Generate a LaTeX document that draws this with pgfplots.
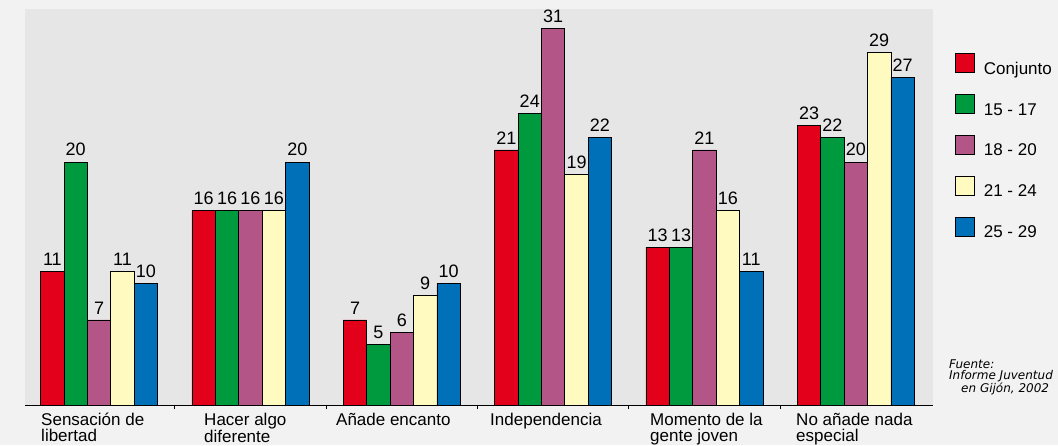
\documentclass[border=0pt]{standalone}
\usepackage{pgfplots}
\pgfplotsset{compat=1.18}
\usepackage{fontspec}
\setmainfont{Liberation Sans}
\newfontfamily\srcfont{DejaVu Sans}
\definecolor{cRed}{HTML}{E2001A}
\definecolor{cGreen}{HTML}{009A3E}
\definecolor{cPurple}{HTML}{B35587}
\definecolor{cYellow}{HTML}{FFFAC0}
\definecolor{cBlue}{HTML}{0070B8}
\definecolor{bgOuter}{HTML}{F2F2F2}
\definecolor{bgPlot}{HTML}{E6E6E6}
\pgfplotsset{
  sqlegend/.style={legend image code/.code={\draw[##1,draw=black,line width=0.8pt] (0pt,-3.5pt) rectangle (19pt,15.5pt);\path (28pt,0pt);}},
}
\begin{document}
\begin{tikzpicture}[x=1pt,y=1pt]
\fill[bgOuter] (0,0) rectangle (1058,445);
\path[use as bounding box] (0,0) rectangle (1058,445);
\begin{axis}[
  at={(25pt,40pt)}, anchor=south west,
  scale only axis, width=908pt, height=396pt,
  ybar=0pt, bar width=23.4pt,
  xmin=-0.49, xmax=5.51, ymin=0, ymax=32.6,
  axis background/.style={fill=bgPlot},
  axis x line=bottom, axis y line=none,
  x axis line style={-, black, line width=0.8pt},
  xtick={0.5,1.5,2.5,3.5,4.5}, xticklabels={},
  tick align=outside, major tick length=4pt,
  tick style={black, line width=0.8pt},
  extra x ticks={-0.384,0.693,1.565,2.583,3.640,4.605},
  extra x tick labels={
    {\rule{0pt}{16pt}Sensación de\\libertad},
    {\rule{0pt}{16pt}Hacer algo\\diferente},
    {\rule{0pt}{16pt}Añade encanto},
    {\rule{0pt}{16pt}Independencia},
    {\rule{0pt}{16pt}Momento de la\\gente joven},
    {\rule{0pt}{16pt}No añade nada\\especial}},
  extra x tick style={major tick length=0pt, tick style={draw=none},
    xticklabel style={anchor=north west, align=left, inner sep=0pt, yshift=-4.5pt,
      font=\fontsize{17}{15.5}\selectfont}},
  /pgf/number format/assume math mode=true,
  nodes near coords,
  nodes near coords style={font=\fontsize{18}{18}\selectfont, inner sep=1.5pt, yshift=4pt, anchor=south, black},
  legend cell align=left,
  legend style={draw=none, fill=none, at={(rel axis cs:1,1)}, anchor=north west,
    xshift=22pt, yshift=-44pt, inner sep=0pt, outer sep=0pt, row sep=18.3pt,
    nodes={inner sep=0pt, font=\fontsize{17}{17}\selectfont}},
  clip=false,
]
\addplot[fill=cRed, draw=black, line width=0.8pt, sqlegend] coordinates {(0,11) (1,16) (2,7) (3,21) (4,13) (5,23)};
\addplot[fill=cGreen, draw=black, line width=0.8pt, sqlegend] coordinates {(0,20) (1,16) (2,5) (3,24) (4,13) (5,22)};
\addplot[fill=cPurple, draw=black, line width=0.8pt, sqlegend] coordinates {(0,7) (1,16) (2,6) (3,31) (4,21) (5,20)};
\addplot[fill=cYellow, draw=black, line width=0.8pt, sqlegend] coordinates {(0,11) (1,16) (2,9) (3,19) (4,16) (5,29)};
\addplot[fill=cBlue, draw=black, line width=0.8pt, sqlegend] coordinates {(0,10) (1,20) (2,10) (3,22) (4,11) (5,27)};
\legend{Conjunto, 15 - 17, 18 - 20, 21 - 24, 25 - 29}
\end{axis}
\node[anchor=north west, align=left, inner sep=0pt, font=\srcfont\itshape\fontsize{12}{11}\selectfont] at (949,85)
  {Fuente:\\Informe Juventud\\\hspace*{12pt}en Gijón, 2002};
\end{tikzpicture}
\end{document}
